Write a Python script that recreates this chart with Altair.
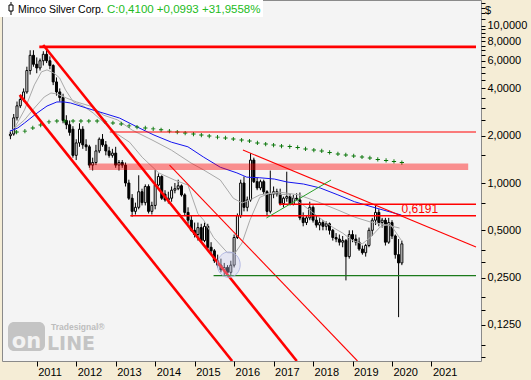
import altair as alt
import pandas as pd

FONT = "Liberation Sans"

# ---------------- monthly candles (May 2010 .. Apr 2020) ----------------
first_month = "2010-05-01"
opens = [2.00, 2.05, 2.60, 3.10, 3.40, 3.80, 5.20, 6.50, 5.70, 5.40,
         6.00, 6.60, 6.00, 5.60, 4.40, 3.80, 3.50, 2.50, 2.35, 2.20,
         1.50, 1.80, 2.20, 1.75, 1.70, 1.30, 1.35, 1.60, 1.90, 1.75,
         1.60, 1.50, 1.55, 1.30, 1.35, 1.30, 1.00, 0.80, 0.66, 0.70,
         0.88, 0.75, 0.95, 0.66, 0.72, 0.97, 1.10, 0.85, 0.78, 0.80,
         0.90, 0.92, 0.96, 0.84, 0.65, 0.58, 0.50, 0.47, 0.52, 0.43,
         0.53, 0.39, 0.37, 0.32, 0.30, 0.28, 0.29, 0.27, 0.30, 0.45,
         0.62, 1.00, 0.70, 0.78, 1.40, 1.02, 0.93, 1.02, 0.88, 0.66,
         0.85, 0.88, 0.85, 0.74, 0.80, 0.82, 0.73, 0.80, 0.78, 0.60,
         0.56, 0.60, 0.70, 0.58, 0.54, 0.56, 0.53, 0.55, 0.50, 0.45,
         0.44, 0.42, 0.43, 0.34, 0.47, 0.44, 0.42, 0.38, 0.36, 0.40,
         0.50, 0.58, 0.65, 0.56, 0.58, 0.42, 0.56, 0.46, 0.35, 0.31]
highs = [2.15, 2.75, 3.30, 3.60, 4.00, 5.50, 7.00, 7.00, 6.30, 6.20,
         6.90, 7.35, 6.40, 5.70, 4.70, 4.00, 3.70, 2.70, 2.50, 2.30,
         1.90, 2.40, 2.30, 1.90, 1.75, 1.45, 1.75, 1.95, 2.05, 1.85,
         1.70, 1.65, 1.70, 1.40, 1.40, 1.35, 1.05, 0.85, 0.75, 1.12,
         0.92, 0.98, 0.98, 0.76, 1.21, 1.15, 1.12, 0.90, 0.88, 0.95,
         1.00, 1.05, 0.98, 0.86, 0.70, 0.62, 0.56, 0.56, 0.55, 0.56,
         0.55, 0.42, 0.38, 0.35, 0.33, 0.31, 0.30, 0.32, 0.47, 0.64,
         1.05, 1.10, 0.82, 1.55, 1.45, 1.08, 1.05, 1.05, 0.90, 1.20,
         0.95, 0.92, 0.92, 0.82, 1.18, 0.85, 0.84, 0.86, 0.87, 0.65,
         0.62, 0.76, 0.72, 0.62, 0.60, 0.58, 0.57, 0.56, 0.51, 0.48,
         0.47, 0.46, 0.44, 0.50, 0.50, 0.47, 0.45, 0.40, 0.41, 0.52,
         0.60, 0.72, 0.68, 0.60, 0.60, 0.60, 0.58, 0.47, 0.44, 0.43]
lows = [1.90, 2.00, 2.50, 3.00, 3.30, 3.70, 4.90, 5.50, 5.00, 5.20,
        5.60, 5.80, 5.30, 4.20, 3.60, 3.30, 2.40, 2.20, 2.00, 1.45,
        1.40, 1.70, 1.65, 1.60, 1.25, 1.20, 1.30, 1.55, 1.70, 1.50,
        1.45, 1.45, 1.25, 1.20, 1.25, 0.95, 0.78, 0.61, 0.63, 0.68,
        0.72, 0.72, 0.64, 0.63, 0.68, 0.95, 0.78, 0.76, 0.74, 0.76,
        0.86, 0.90, 0.82, 0.62, 0.55, 0.49, 0.45, 0.43, 0.42, 0.42,
        0.38, 0.35, 0.31, 0.29, 0.27, 0.26, 0.255, 0.26, 0.29, 0.44,
        0.60, 0.66, 0.66, 0.76, 1.00, 0.90, 0.90, 0.85, 0.62, 0.64,
        0.80, 0.82, 0.72, 0.70, 0.76, 0.72, 0.72, 0.77, 0.58, 0.53,
        0.54, 0.58, 0.56, 0.52, 0.50, 0.50, 0.50, 0.47, 0.43, 0.42,
        0.40, 0.39, 0.24, 0.33, 0.42, 0.40, 0.37, 0.35, 0.34, 0.39,
        0.46, 0.54, 0.53, 0.52, 0.40, 0.41, 0.44, 0.33, 0.14, 0.30]
closes = [2.05, 2.60, 3.10, 3.40, 3.80, 5.20, 6.50, 5.70, 5.40, 6.00,
          6.60, 6.00, 5.60, 4.40, 3.80, 3.50, 2.50, 2.35, 2.10, 1.50,
          1.80, 2.20, 1.75, 1.70, 1.30, 1.35, 1.60, 1.90, 1.75, 1.60,
          1.50, 1.55, 1.30, 1.35, 1.30, 1.00, 0.80, 0.66, 0.70, 0.88,
          0.75, 0.95, 0.66, 0.72, 0.97, 1.10, 0.80, 0.78, 0.80, 0.90,
          0.92, 0.96, 0.84, 0.65, 0.58, 0.50, 0.47, 0.52, 0.43, 0.53,
          0.39, 0.37, 0.32, 0.30, 0.28, 0.29, 0.27, 0.30, 0.45, 0.62,
          1.00, 0.70, 0.78, 1.40, 1.02, 0.93, 1.02, 0.88, 0.66, 0.85,
          0.88, 0.85, 0.74, 0.80, 0.82, 0.73, 0.80, 0.78, 0.60, 0.56,
          0.60, 0.70, 0.58, 0.54, 0.56, 0.53, 0.55, 0.50, 0.45, 0.44,
          0.42, 0.43, 0.34, 0.47, 0.44, 0.42, 0.38, 0.36, 0.40, 0.50,
          0.58, 0.65, 0.56, 0.58, 0.42, 0.56, 0.46, 0.35, 0.31, 0.41]

# ---------------- indicator lines (decimal year, price) ----------------
blue_t = [2010.32, 2010.52, 2010.69, 2011.01, 2011.26, 2011.51, 2011.69, 2011.86,
          2012.26, 2012.68, 2013.10, 2013.55, 2013.97, 2014.41, 2014.83, 2015.23,
          2015.65, 2016.07, 2016.32, 2016.65, 2017.02, 2017.34, 2017.76, 2018.18,
          2018.63, 2019.05, 2019.62, 2020.24]
blue_v = [2.14, 2.24, 2.41, 2.79, 3.09, 3.28, 3.28, 3.23,
          3.00, 2.79, 2.59, 2.27, 2.02, 1.82, 1.70, 1.46,
          1.26, 1.16, 1.09, 1.08, 1.06, 1.015, 0.985, 0.93,
          0.84, 0.76, 0.69, 0.625]

gray_fast_t = [2010.30, 2010.45, 2010.69, 2010.94, 2011.12, 2011.26, 2011.44, 2011.58,
               2011.73, 2011.93, 2012.18, 2012.43, 2012.68, 2013.00, 2013.35, 2013.67,
               2014.09, 2014.49, 2014.83, 2015.08, 2015.23, 2015.48, 2015.83, 2016.03,
               2016.20, 2016.40, 2016.65, 2016.89, 2017.39, 2017.76, 2018.13, 2018.51,
               2018.75, 2019.00, 2019.25, 2019.45, 2019.70, 2019.95, 2020.24]
gray_fast_v = [2.08, 2.27, 2.92, 4.21, 5.10, 5.25, 5.00, 4.66,
               3.91, 3.28, 3.09, 2.79, 2.45, 2.08, 1.82, 1.46,
               1.16, 1.045, 0.97, 0.64, 0.58, 0.45, 0.36, 0.36,
               0.415, 0.58, 0.81, 0.86, 0.84, 0.72, 0.61, 0.52,
               0.48, 0.43, 0.41, 0.45, 0.525, 0.55, 0.43]

gray_slow_t = [2010.45, 2010.69, 2010.94, 2011.19, 2011.36, 2011.51, 2011.76, 2012.01,
               2012.43, 2012.68, 2013.05, 2013.42, 2013.92, 2014.41, 2014.91, 2015.23,
               2015.65, 2015.98, 2016.20, 2016.40, 2016.65, 2017.14, 2017.64, 2018.13,
               2018.63, 2019.05, 2019.45, 2019.87, 2020.19]
gray_slow_v = [2.24, 2.52, 3.00, 3.53, 3.74, 3.69, 3.47, 3.28,
               3.05, 2.71, 2.52, 2.17, 1.88, 1.62, 1.34, 1.21,
               1.045, 0.80, 0.746, 0.78, 0.84, 0.876, 0.84, 0.757,
               0.673, 0.607, 0.565, 0.54, 0.517]

green_t = [2010.49, 2010.70, 2010.90, 2011.10, 2011.31, 2011.51, 2011.71, 2011.92,
           2012.12, 2012.32, 2012.53, 2012.73, 2012.93, 2013.14, 2013.34, 2013.54,
           2013.75, 2013.95, 2014.15, 2014.36, 2014.56, 2014.76, 2014.97, 2015.17,
           2015.37, 2015.58, 2015.78, 2015.98, 2016.19, 2016.39, 2016.59, 2016.80,
           2017.00, 2017.20, 2017.41, 2017.61, 2017.81, 2018.02, 2018.22, 2018.42,
           2018.63, 2018.83, 2019.03, 2019.24, 2019.44, 2019.64, 2019.85, 2020.05,
           2020.25]
green_v = [2.11, 2.14, 2.24, 2.34, 2.45, 2.48, 2.48, 2.48,
           2.48, 2.48, 2.48, 2.45, 2.41, 2.375, 2.31, 2.27,
           2.24, 2.21, 2.18, 2.14, 2.11, 2.08, 2.05, 2.02,
           1.99, 1.96, 1.935, 1.906, 1.878, 1.851, 1.798, 1.771,
           1.745, 1.72, 1.707, 1.683, 1.647, 1.622, 1.599, 1.564,
           1.53, 1.508, 1.486, 1.464, 1.443, 1.412, 1.391, 1.371,
           1.35]

# ---------------- drawn trend lines / levels ----------------
thick_t1 = [2011.164, 2010.569, 2011.065]
thick_v1 = [7.56, 3.64, 7.35]
thick_t2 = [2017.588, 2015.951, 2022.128]
thick_v2 = [0.07362, 0.07362, 7.35]

thin_t1 = [2014.364, 2016.224, 2012.851]
thin_v1 = [1.30, 1.62, 2.11]
thin_t2 = [2019.126, 2022.128, 2022.128]
thin_v2 = [0.07362, 0.391, 2.11]

level_t1 = [2017.14, 2013.37]
level_v = [0.732, 0.6191]
level_t2 = [2022.128, 2022.128]

green_seg_t1 = [2016.819, 2015.48]
green_seg_v1 = [0.599, 0.257]
green_seg_t2 = [2018.456, 2022.128]
green_seg_v2 = [1.045, 0.257]

band_t = [2012.33]
band_t2 = [2021.93]
band_lo = [1.21]
band_hi = [1.33]

bottom_t = [2015.864]
bottom_v = [0.302]

label_t = [2020.24]
label_v = [0.645]
label_text = ["0,6191"]

y_major = [10, 8, 6, 4, 2, 1, 0.5, 0.25, 0.125]
y_minor = [14, 13, 12, 11, 9.5, 9, 8.5, 7.5, 7, 6.5, 5.5, 5, 4.5, 3.5, 3, 2.5,
           1.5, 0.75, 0.375, 0.3125, 0.1875, 0.15625, 0.09375, 0.078125]
year_ticks = list(range(2011, 2022))

title_name = "Minco Silver Corp."
title_quote = "C:0,4100 +0,0993 +31,9558%"

# ---------------- build tables ----------------
dates = pd.date_range(first_month, periods=len(closes), freq="MS")
candles = pd.DataFrame({
    "t": dates.year + (dates.month - 1) / 12.0,
    "open": opens, "high": highs, "low": lows, "close": closes,
})
candles["up"] = candles["close"] >= candles["open"]

X_DOMAIN = [2010.2466, 2022.128]
Y_DOMAIN = [0.07362, 14.62]
xs = alt.Scale(domain=X_DOMAIN, nice=False, zero=False)
ys = alt.Scale(type="log", domain=Y_DOMAIN, nice=False)

x_axis = alt.Axis(values=year_ticks, format="d", labelAlign="left", labelOffset=1,
                  tickSize=5, tickColor="#000000", labelColor="#000000",
                  labelFont=FONT, labelFontSize=11, domain=False, grid=False,
                  title=None, labelPadding=0, labelBaseline="top", labelFlush=False)
major_str = "[" + ",".join(str(v) for v in y_major) + "]"
y_axis = alt.Axis(orient="right", values=y_major + y_minor,
                  labelExpr="indexof(" + major_str + ", datum.value) >= 0 ? replace(format(datum.value, '.4f'), '.', ',') : ''",
                  tickSize=4, tickColor="#000000", labelColor="#000000",
                  labelFont=FONT, labelFontSize=11, labelPadding=2, domain=False,
                  grid=False, title=None, labelOverlap=False, labelFlush=False)


def X(field):
    return alt.X(field, scale=xs, axis=x_axis)


def Y(field):
    return alt.Y(field, scale=ys, axis=y_axis)


wicks = alt.Chart(candles).mark_rule(color="#000000", strokeWidth=1).encode(
    x=X("t:Q"), y=Y("low:Q"), y2="high:Q",
)
bodies = alt.Chart(candles).mark_bar(size=2, stroke="#000000", strokeWidth=1).encode(
    x=X("t:Q"), y=Y("open:Q"), y2="close:Q",
    fill=alt.condition("datum.up", alt.value("#FFFFFF"), alt.value("#000000")),
)


def ma_layer(t, v, color, width=1.0):
    df = pd.DataFrame({"t": t, "v": v})
    return alt.Chart(df).mark_line(color=color, strokeWidth=width, clip=True).encode(
        x=X("t:Q"), y=Y("v:Q"),
    )


gray_fast = ma_layer(gray_fast_t, gray_fast_v, "#A9A9A9")
gray_slow = ma_layer(gray_slow_t, gray_slow_v, "#A9A9A9")
blue = ma_layer(blue_t, blue_v, "#1414F0")

green_dots = alt.Chart(pd.DataFrame({"t": green_t, "v": green_v})).mark_point(
    shape="M-1,-0.22H1V0.22H-1Z M-0.22,-1H0.22V1H-0.22Z", filled=True, size=18,
    color="#067406", opacity=1).encode(
    x=X("t:Q"), y=Y("v:Q"),
)


def seg_layer(t1, v1, t2, v2, color, width):
    df = pd.DataFrame({"t1": t1, "v1": v1, "t2": t2, "v2": v2})
    return alt.Chart(df).mark_rule(color=color, strokeWidth=width, clip=True).encode(
        x=X("t1:Q"), y=Y("v1:Q"), x2="t2:Q", y2="v2:Q",
    )


thick = seg_layer(thick_t1, thick_v1, thick_t2, thick_v2, "#FF0000", 2.6)
thin = seg_layer(thin_t1, thin_v1, thin_t2, thin_v2, "#FF0000", 1.1)
levels = seg_layer(level_t1, level_v, level_t2, level_v, "#FF0000", 1.6)
green_lvl = seg_layer(green_seg_t1[1:], green_seg_v1[1:], green_seg_t2[1:], green_seg_v2[1:], "#1B7A1B", 1.2)
green_diag = seg_layer(green_seg_t1[:1], green_seg_v1[:1], green_seg_t2[:1], green_seg_v2[:1], "#2AA02A", 1.0)

band = alt.Chart(pd.DataFrame({"t": band_t, "t2": band_t2, "lo": band_lo, "hi": band_hi})).mark_rect(
    color="#FF0000", opacity=0.42).encode(
    x=X("t:Q"), x2="t2:Q", y=Y("lo:Q"), y2="hi:Q",
)

bottom_mark = alt.Chart(pd.DataFrame({"t": bottom_t, "v": bottom_v})).mark_point(
    shape="M-0.9,0A0.9,1 0 1,0 0.9,0A0.9,1 0 1,0 -0.9,0Z", size=650, filled=True,
    fill="#C8CCF0", fillOpacity=0.35, stroke="#A8AEE0", strokeWidth=1, strokeOpacity=0.8).encode(
    x=X("t:Q"), y=Y("v:Q"),
)

level_label = alt.Chart(pd.DataFrame({"t": label_t, "v": label_v, "s": label_text})).mark_text(
    align="left", baseline="alphabetic", color="#FF0000", font=FONT, fontSize=12).encode(
    x=X("t:Q"), y=Y("v:Q"), text="s:N",
)

one = pd.DataFrame({"k": [0]})
title_box = alt.Chart(one).mark_rect(color="#FFFFFF").encode(
    x=alt.value(-2), x2=alt.value(261), y=alt.value(0), y2=alt.value(17))
icon_line = alt.Chart(one).mark_rule(color="#000000", strokeWidth=1).encode(
    x=alt.value(9), y=alt.value(2), y2=alt.value(15))
icon_body = alt.Chart(one).mark_rect(fill="#FFFFFF", stroke="#000000", strokeWidth=1).encode(
    x=alt.value(7), x2=alt.value(11), y=alt.value(5), y2=alt.value(11))
title_a = alt.Chart(one).mark_text(align="left", baseline="alphabetic", font=FONT,
                                   fontSize=10.5, color="#000000", text=title_name).encode(
    x=alt.value(16), y=alt.value(13))
title_b = alt.Chart(one).mark_text(align="left", baseline="alphabetic", font=FONT,
                                   fontSize=11.5, color="#22BB22", text=title_quote).encode(
    x=alt.value(105), y=alt.value(13))
dollar = alt.Chart(one).mark_text(align="left", baseline="alphabetic", font=FONT,
                                  fontSize=11, color="#000000", text="$").encode(
    x=alt.value(483), y=alt.value(14))

logo_box = alt.Chart(one).mark_rect(color="#C4C4C4", cornerRadius=6).encode(
    x=alt.value(6), x2=alt.value(43), y=alt.value(322), y2=alt.value(351))
logo_on = alt.Chart(one).mark_text(align="center", baseline="alphabetic", font="DejaVu Sans",
                                   fontWeight="bold", fontSize=21, color="#F2F2F2", text="on").encode(
    x=alt.value(24.5), y=alt.value(348))
logo_line = alt.Chart(one).mark_text(align="left", baseline="alphabetic", font="DejaVu Sans",
                                     fontWeight="bold", fontSize=19, color="#C4C4C4", text="LINE").encode(
    x=alt.value(45), y=alt.value(350))
logo_ts = alt.Chart(one).mark_text(align="left", baseline="alphabetic", font=FONT,
                                   fontWeight="bold", fontSize=8.5, color="#BDBDBD", text="Tradesignal®").encode(
    x=alt.value(49), y=alt.value(330))

chart = alt.layer(
    wicks, bodies, gray_slow, gray_fast, blue, green_dots,
    band, thick, thin, levels, green_lvl, green_diag, bottom_mark, level_label,
    logo_box, logo_on, logo_line, logo_ts,
    title_box, icon_line, icon_body, title_a, title_b, dollar,
).properties(
    width=479, height=361,
    autosize=alt.AutoSizeParams(type="none"),
    padding={"left": 2, "top": 0, "right": 50, "bottom": 19},
    background="#F5EDD6",
).configure_view(
    fill="#F4F4F4", stroke="#8A8A8A", strokeWidth=1,
)

chart.save("out.html", embed_options={"renderer": "svg", "actions": False})
